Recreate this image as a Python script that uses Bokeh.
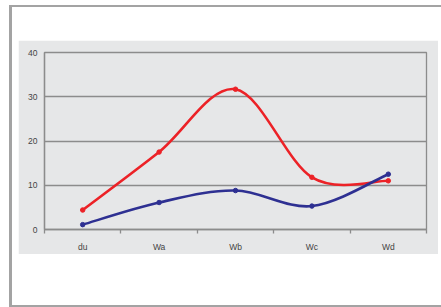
from bokeh.plotting import figure
from bokeh.layouts import column
from bokeh.models import Range1d, FixedTicker, CustomJSTickFormatter, ColumnDataSource
from bokeh.embed import file_html
from bokeh.resources import INLINE

categories = ["du", "Wa", "Wb", "Wc", "Wd"]
red_values = [4.4, 17.5, 31.7, 11.8, 11.0]
blue_values = [1.1, 6.1, 8.8, 5.3, 12.5]
y_ticks = [0, 10, 20, 30, 40]

RED = "#ec2227"
BLUE = "#2e3092"
GRID = "#8c8c8c"
PANEL = "#e6e7e8"

p = figure(width=420, height=214, output_backend="svg", toolbar_location=None,
           x_range=Range1d(0, len(categories)), y_range=Range1d(0, 40),
           min_border_left=26, min_border_right=12, min_border_top=12, min_border_bottom=25)
p.border_fill_color = PANEL
p.background_fill_color = PANEL
p.outline_line_color = GRID
p.outline_line_width = 1.3
p.margin = (33, 10, 51, 6)

xs = [i + 0.5 for i in range(len(categories))]

def bezier_segments(ys):
    n = len(ys)
    out = dict(x0=[], y0=[], x1=[], y1=[], cx0=[], cy0=[], cx1=[], cy1=[])
    for i in range(n - 1):
        pm = max(i - 1, 0)
        pp = min(i + 2, n - 1)
        out["x0"].append(xs[i]); out["y0"].append(ys[i])
        out["x1"].append(xs[i + 1]); out["y1"].append(ys[i + 1])
        out["cx0"].append(xs[i] + (xs[i + 1] - xs[pm]) / 6)
        out["cy0"].append(ys[i] + (ys[i + 1] - ys[pm]) / 6)
        out["cx1"].append(xs[i + 1] - (xs[pp] - xs[i]) / 6)
        out["cy1"].append(ys[i + 1] - (ys[pp] - ys[i]) / 6)
    return ColumnDataSource(out)

for vals, col in ((red_values, RED), (blue_values, BLUE)):
    p.bezier(x0="x0", y0="y0", x1="x1", y1="y1", cx0="cx0", cy0="cy0", cx1="cx1", cy1="cy1",
             source=bezier_segments(vals), line_color=col, line_width=2.6, line_cap="round")
    p.scatter(xs, vals, size=4.5, color=col, marker="circle")

xa = p.xaxis[0]
xa.ticker = FixedTicker(ticks=xs, minor_ticks=list(range(len(categories) + 1)))
xa.formatter = CustomJSTickFormatter(args=dict(labels=categories),
                                     code="return labels[Math.floor(tick)];")
xa.major_tick_out = 0
xa.major_tick_in = 0
xa.minor_tick_out = 4
xa.minor_tick_in = 0
xa.minor_tick_line_color = GRID
xa.minor_tick_line_width = 1.3
xa.axis_line_color = GRID
xa.axis_line_width = 1.3
xa.major_label_standoff = 8
xa.major_label_text_font = "Liberation Sans"
xa.major_label_text_font_size = "8.5px"
xa.major_label_text_color = "#444444"

ya = p.yaxis[0]
ya.ticker = FixedTicker(ticks=y_ticks)
ya.major_tick_out = 0
ya.major_tick_in = 0
ya.minor_tick_out = 0
ya.minor_tick_in = 0
ya.axis_line_color = GRID
ya.axis_line_width = 1.3
ya.major_label_standoff = 7
ya.major_label_text_font = "Liberation Sans"
ya.major_label_text_font_size = "8.5px"
ya.major_label_text_color = "#444444"

p.xgrid.visible = False
p.ygrid.ticker = FixedTicker(ticks=y_ticks)
p.ygrid.grid_line_color = GRID
p.ygrid.grid_line_width = 1.3

layout = column(p, margin=(5, 0, 0, 9),
                styles={"background-color": "white",
                        "border-left": "3px solid #a3a3a3",
                        "border-top": "2px solid #a3a3a3",
                        "border-bottom": "2px solid #a3a3a3"})

open("out.html", "w").write(file_html(layout, INLINE))
